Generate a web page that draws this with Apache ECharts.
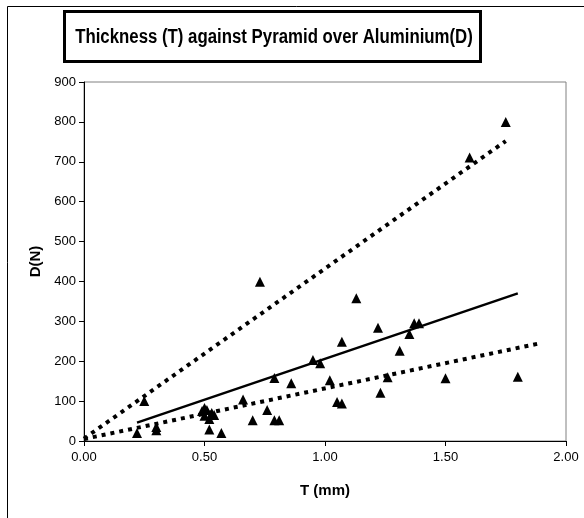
<!DOCTYPE html>
<html><head><meta charset="utf-8">
<script src="https://cdn.jsdelivr.net/npm/echarts@6/dist/echarts.min.js"></script>
<style>html,body{margin:0;padding:0;background:#fff}#c{width:584px;height:518px}</style>
</head><body><div id="c"></div>
<script>
const titleText = 'Thickness (T) against Pyramid over Aluminium(D)';
const xName = 'T (mm)';
const yName = 'D(N)';
const xTicks = [0, 0.5, 1.0, 1.5, 2.0];
const yTicks = [0, 100, 200, 300, 400, 500, 600, 700, 800, 900];

// measured points: thickness T (mm), force D (N)
const T = [0.25, 0.22, 0.30, 0.30, 0.49, 0.50, 0.51, 0.53, 0.50, 0.52, 0.54, 0.52, 0.57,
           0.66, 0.70, 0.76, 0.79, 0.81, 0.79, 0.86, 0.73, 0.95, 0.98, 1.02, 1.05, 1.07,
           1.07, 1.13, 1.22, 1.23, 1.26, 1.31, 1.35, 1.37, 1.39, 1.50, 1.60, 1.75, 1.80];
const D = [100, 20, 35, 27, 75, 83, 78, 70, 63, 55, 65, 29, 20,
           104, 52, 78, 52, 52, 158, 145, 399, 203, 195, 152, 98, 94,
           249, 358, 284, 121, 160, 226, 268, 295, 295, 157, 711, 800, 161];

// trend lines (endpoints)
const midFit = [[0.22, 46], [1.80, 370]];
const upperFit = [[0.0, 6], [1.75, 752]];
const lowerFit = [[0.0, 5], [1.90, 246]];

const chart = echarts.init(document.getElementById('c'), null, {renderer: 'canvas'});
const font = '"Liberation Sans", Arial, sans-serif';
const pts = T.map((t, i) => [t, D[i]]);
const dotted = {type: [4, 5], width: 4, color: '#000', cap: 'butt'};

chart.setOption({
  animation: false,
  backgroundColor: '#fff',
  textStyle: {fontFamily: font},
  grid: {left: 84, right: 18, top: 82, bottom: 77, show: true, borderColor: '#808080', borderWidth: 1, backgroundColor: 'transparent'},
  xAxis: {
    type: 'value', min: 0, max: 2, interval: 0.5,
    name: xName, nameLocation: 'middle', nameGap: 42,
    nameTextStyle: {fontFamily: font, fontSize: 15, fontWeight: 'bold', color: '#000'},
    axisLine: {lineStyle: {color: '#000', width: 1}},
    axisTick: {show: true, length: 5, lineStyle: {color: '#000'}},
    axisLabel: {fontFamily: font, fontSize: 13, color: '#000', margin: 10,
      formatter: v => v.toFixed(2)},
    splitLine: {show: false}
  },
  yAxis: {
    type: 'value', min: 0, max: 900, interval: 100,
    name: yName, nameLocation: 'middle', nameGap: 40, nameRotate: 90,
    nameTextStyle: {fontFamily: font, fontSize: 15, fontWeight: 'bold', color: '#000'},
    axisLine: {show: true, lineStyle: {color: '#000', width: 1}},
    axisTick: {show: true, length: 5, lineStyle: {color: '#000'}},
    axisLabel: {fontFamily: font, fontSize: 13, color: '#000', margin: 8},
    splitLine: {show: false}
  },
  series: [
    {type: 'line', data: upperFit, showSymbol: false, symbol: 'none', lineStyle: dotted, z: 2},
    {type: 'line', data: lowerFit, showSymbol: false, symbol: 'none', lineStyle: dotted, z: 2},
    {type: 'line', data: midFit, showSymbol: false, symbol: 'none', lineStyle: {width: 2.5, color: '#000'}, z: 2},
    {type: 'scatter', data: pts, symbol: 'triangle', symbolSize: [10, 10], itemStyle: {color: '#000', opacity: 1}, z: 3}
  ],
  graphic: [
    {type: 'rect', shape: {x: 7.5, y: 6.5, width: 600, height: 600}, style: {fill: null, stroke: '#000', lineWidth: 1}, z: 0, silent: true},
    {type: 'rect', shape: {x: 64.5, y: 11.5, width: 416, height: 50}, style: {fill: '#fff', stroke: '#000', lineWidth: 3}, z: 10},
    {type: 'text', x: 274, y: 37, scaleX: 0.84, style: {text: titleText, font: 'bold 20px "Liberation Sans", Arial, sans-serif', fill: '#000', textAlign: 'center', textVerticalAlign: 'middle'}, z: 11}
  ]
});
</script></body></html>
